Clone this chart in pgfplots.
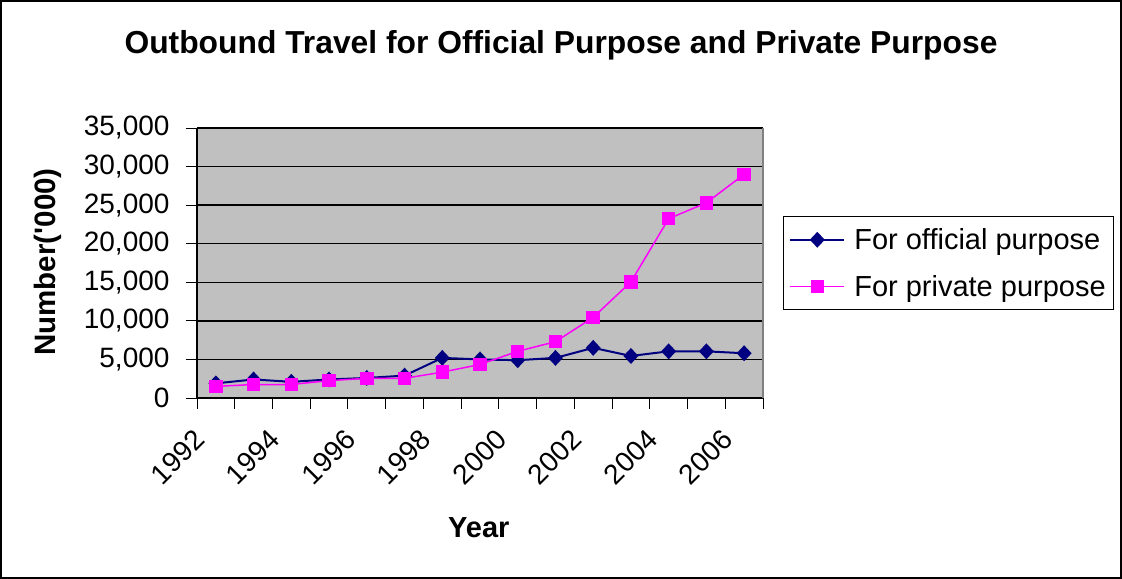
\documentclass[border=0pt]{standalone}
\usepackage{fontspec}
\setmainfont{Liberation Sans}
\newfontfamily\rawsans{Liberation Sans}
\usepackage{pgfplots}
\pgfplotsset{compat=1.18}
\definecolor{plotgray}{HTML}{C0C0C0}
\definecolor{navyC}{HTML}{000080}
\definecolor{magentaC}{HTML}{FF00FF}
\definecolor{bordergray}{HTML}{808080}
\newcommand{\bigfont}{\fontsize{28bp}{34bp}\selectfont}
\newcommand{\legfont}{\fontsize{29bp}{35bp}\selectfont}
\newcommand{\labfont}{\fontsize{29.5bp}{35bp}\selectfont}
\begin{document}
\begin{tikzpicture}
\useasboundingbox (0bp,0bp) rectangle (1122bp,579bp);
\draw[line width=2bp] (1bp,1bp) rectangle (1121bp,578bp);
\node[font=\bfseries\fontsize{31.8bp}{38bp}\selectfont] at (561bp,534bp) {Outbound Travel for Official Purpose and Private Purpose};
\begin{axis}[
  at={(197bp,181bp)}, anchor=south west,
  scale only axis, width=566bp, height=270bp,
  xmin=-0.5, xmax=14.5, ymin=0, ymax=35000,
  xtick={-0.5,0.5,1.5,2.5,3.5,4.5,5.5,6.5,7.5,8.5,9.5,10.5,11.5,12.5,13.5,14.5},
  xticklabels={},
  extra x ticks={0,2,4,6,8,10,12,14},
  extra x tick labels={1992\hspace{12bp},1994\hspace{12bp},1996\hspace{12bp},1998\hspace{12bp},2000\hspace{12bp},2002\hspace{12bp},2004\hspace{12bp},2006\hspace{12bp}},
  extra x tick style={major tick length=0pt},
  ytick={0,5000,10000,15000,20000,25000,30000,35000},
  tick align=outside, major tick length=11bp,
  ymajorgrids, major grid style={black, line width=1.5bp},
  axis background/.style={fill=plotgray},
  axis x line*=bottom, axis y line*=left,
  axis line style={black, line width=1.5bp, -},
  tick style={black, line width=1bp},
  /pgf/number format/assume math mode=true,
  /pgf/number format/1000 sep={,},
  scaled y ticks=false,
  yticklabel style={font=\bigfont, xshift=-13bp},
  xticklabel style={font=\bigfont, inner sep=0pt, xshift=-16bp, yshift=-37bp, rotate=45, anchor=east},
  xlabel={Year},
  xlabel style={font=\bfseries\legfont, at={(rel axis cs:0.498,-0.481)}, anchor=center},
  ylabel={Number({\rawsans\bfseries '}000)},
  ylabel style={font=\bfseries\labfont, at={(rel axis cs:-0.263,0.504)}, anchor=center},
  legend style={at={(rel axis cs:1.035,0.674)}, anchor=north west, draw=black, line width=1bp, fill=white, font=\legfont, inner xsep=6bp, inner ysep=10bp, row sep=20bp, /tikz/every odd column/.append style={column sep=7bp}},
  legend cell align=left,
  legend image code/.code={\draw[mark repeat=2,mark phase=2,#1] plot coordinates {(0bp,0bp) (27bp,0bp) (54bp,0bp)};},
  extra description/.code={\draw[bordergray, line width=1.5bp] (rel axis cs:1,0) -- (rel axis cs:1,1);},
]
\addplot[color=navyC, line width=2bp, mark=diamond*, mark size=6.5bp, mark options={solid, fill=navyC, xscale=1.25}] coordinates {
(0,1900) (1,2400) (2,2100) (3,2400) (4,2600) (5,2900) (6,5200) (7,5000) (8,4900) (9,5200) (10,6500) (11,5450) (12,6050) (13,6050) (14,5800)};
\addlegendentry{For official purpose}
\addplot[color=magentaC, line width=1.5bp, mark=square*, mark size=6bp, mark options={solid, fill=magentaC}] coordinates {
(0,1500) (1,1750) (2,1750) (3,2250) (4,2550) (5,2550) (6,3350) (7,4350) (8,6050) (9,7300) (10,10450) (11,15050) (12,23250) (13,25300) (14,29000)};
\addlegendentry{For private purpose}
\end{axis}
\end{tikzpicture}
\end{document}
